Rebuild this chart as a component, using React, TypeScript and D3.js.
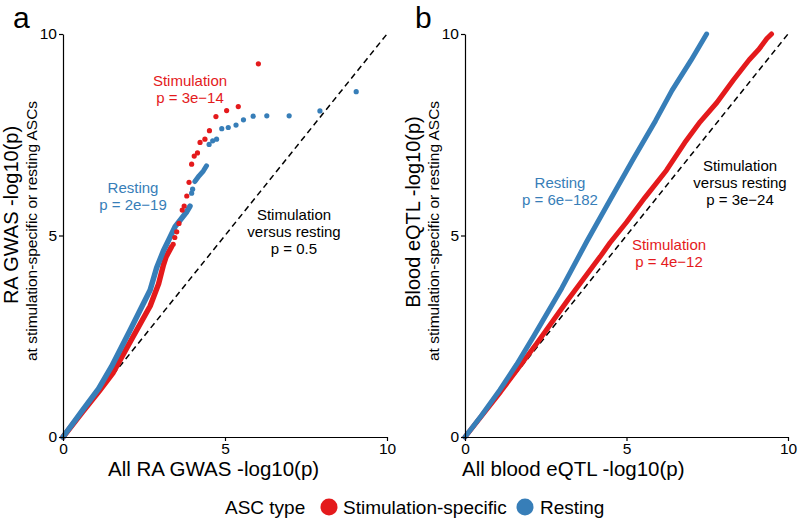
import React, {useEffect, useRef} from "react";
import * as d3 from "d3";

const RED = "#E41A1C";
const BLUE = "#377EB8";
const FONT = "'Liberation Sans', Arial, Helvetica, sans-serif";

const ticks = [0, 5, 10];

// panel a: RA GWAS QQ — dense part as polyline, tail as single points
const aStimLine = [[0, 0], [0.6, 0.62], [1.1, 1.12], [1.55, 1.6], [2.17, 2.5], [2.69, 3.25], [2.95, 3.8], [3.1, 4.27], [3.18, 4.47], [3.35, 4.72]];
const aStimPoints = [[3.4, 4.78], [3.45, 4.95], [3.51, 5.09], [3.58, 5.3], [3.68, 5.63], [3.74, 5.73], [3.82, 5.98], [3.89, 6.32], [3.97, 6.77], [4.05, 6.97], [4.15, 7.05], [4.23, 7.31], [4.38, 7.39], [4.52, 7.6], [4.72, 7.95], [5.05, 8.1], [5.41, 8.2], [6.03, 9.26]];
const aRestLine = [[0, 0], [0.6, 0.66], [1.1, 1.2], [1.5, 1.75], [2.07, 2.65], [2.69, 3.65], [2.89, 4.2], [3.1, 4.62], [3.3, 4.95], [3.46, 5.22], [3.82, 5.59], [3.92, 5.73]];
const aRestLine2 = [[4.07, 6.34], [4.2, 6.48], [4.33, 6.6], [4.43, 6.73]];
const aRestPoints = [[3.97, 6.05], [4.0, 6.15], [4.51, 7.26], [4.62, 7.35], [4.74, 7.39], [4.9, 7.65], [5.1, 7.68], [5.34, 7.74], [5.57, 7.87], [5.87, 7.96], [6.29, 7.97], [6.98, 7.97], [7.93, 8.09], [9.05, 8.57]];

// panel b: blood eQTL QQ
const bRestLine = [[0, 0], [0.5, 0.52], [1.08, 1.17], [1.6, 1.8], [2.12, 2.49], [3.0, 3.7], [3.77, 4.85], [4.4, 5.75], [5.21, 6.9], [5.9, 7.85], [6.41, 8.6], [7.0, 9.35], [7.48, 10]];
const bStimLine = [[0, 0], [1.1, 1.12], [2.22, 2.32], [3.2, 3.42], [4.18, 4.47], [4.49, 4.82], [5.0, 5.33], [5.57, 5.94], [6.24, 6.62], [6.8, 7.3], [7.28, 7.82], [7.8, 8.3], [8.31, 8.86], [8.8, 9.36], [9.1, 9.62], [9.34, 9.88], [9.49, 10]];

const App = () => {
    const ref = useRef(null)

    useEffect(() => {
        const svg = d3.select(ref.current)
        svg.selectAll("*").remove()
        svg.style("font-family", FONT)

        const y = d3.scaleLinear().domain([0, 10]).range([437, 34])

        const panel = (x0, x1, opts) => {
            const x = d3.scaleLinear().domain([0, 10]).range([x0, x1])
            const g = svg.append("g")

            const line = d3.line().x(d => x(d[0])).y(d => y(d[1]))

            g.append("path")
                .attr("d", line([[0, 0], [10, 10]]))
                .attr("stroke", "#000").attr("stroke-width", 1.5)
                .attr("stroke-dasharray", "6,4").attr("fill", "none")

            opts.lines.forEach(([data, color, w]) => {
                g.append("path").attr("d", line(data))
                    .attr("fill", "none").attr("stroke", color)
                    .attr("stroke-width", w)
                    .attr("stroke-linejoin", "round").attr("stroke-linecap", "round")
            })
            opts.points.forEach(([data, color]) => {
                g.selectAll(null).data(data).enter().append("circle")
                    .attr("cx", d => x(d[0])).attr("cy", d => y(d[1]))
                    .attr("r", 2.6).attr("fill", color)
            })

            const ax = g.append("g").attr("transform", `translate(0,437)`)
                .call(d3.axisBottom(x).tickValues(ticks).tickSize(4).tickSizeOuter(0).tickPadding(2))
            const ay = g.append("g").attr("transform", `translate(${x0},0)`)
                .call(d3.axisLeft(y).tickValues(ticks).tickSize(4).tickSizeOuter(0).tickPadding(2))
            ;[ax, ay].forEach(a => {
                a.attr("font-family", FONT).attr("font-size", 15.5)
                a.selectAll("path,line").attr("stroke", "#000").attr("stroke-width", 1.2)
                a.selectAll("text").attr("fill", "#000")
            })

            g.append("text").text(opts.letter).attr("x", x0 - 50).attr("y", 28)
                .attr("font-size", 30)

            g.append("text").text(opts.xTitle).attr("x", opts.xTitleX).attr("y", 476)
                .attr("font-size", 20.5)

            g.append("text").text(opts.yTitle)
                .attr("transform", `translate(${x0 - 45},${opts.yTitleY}) rotate(-90)`)
                .attr("text-anchor", "middle").attr("font-size", 20)
            g.append("text").text("at stimulation-specific or resting ASCs")
                .attr("transform", `translate(${x0 - 26},231) rotate(-90)`)
                .attr("text-anchor", "middle").attr("font-size", 15.5)

            opts.labels.forEach(([lines, lx, ly, color]) => {
                lines.forEach((t, i) => {
                    g.append("text").text(t).attr("x", lx).attr("y", ly + i * 17)
                        .attr("text-anchor", "middle").attr("font-size", 15).attr("fill", color)
                })
            })
        }

        panel(63, 387, {
            letter: "a",
            xTitle: "All RA GWAS -log10(p)", xTitleX: 108,
            yTitle: "RA GWAS -log10(p)", yTitleY: 215,
            lines: [[aStimLine, RED, 5.5], [aRestLine, BLUE, 5.5], [aRestLine2, BLUE, 5]],
            points: [[aStimPoints, RED], [aRestPoints, BLUE]],
            labels: [
                [["Stimulation", "p = 3e\u221214"], 190, 86, RED],
                [["Resting", "p = 2e\u221219"], 133, 193, BLUE],
                [["Stimulation", "versus resting", "p = 0.5"], 294, 220, "#000"],
            ],
        })

        panel(465, 788, {
            letter: "b",
            xTitle: "All blood eQTL -log10(p)", xTitleX: 462,
            yTitle: "Blood eQTL -log10(p)", yTitleY: 212,
            lines: [[bStimLine, RED, 5], [bRestLine, BLUE, 5]],
            points: [],
            labels: [
                [["Resting", "p = 6e\u2212182"], 560, 188, BLUE],
                [["Stimulation", "versus resting", "p = 3e\u221224"], 740, 171, "#000"],
                [["Stimulation", "p = 4e\u221212"], 669, 250, RED],
            ],
        })

        // legend
        const lg = svg.append("g").attr("font-size", 19)
        lg.append("text").text("ASC type").attr("x", 225).attr("y", 514)
        lg.append("circle").attr("cx", 329).attr("cy", 507).attr("r", 8.5).attr("fill", RED)
        lg.append("text").text("Stimulation-specific").attr("x", 343).attr("y", 514)
        lg.append("circle").attr("cx", 525).attr("cy", 507).attr("r", 8.5).attr("fill", BLUE)
        lg.append("text").text("Resting").attr("x", 540).attr("y", 514)
    }, [])

    return <svg ref={ref} width={800} height={518}
                style={{position: "absolute", left: 0, top: 0, background: "#fff"}}/>
}

export default App
